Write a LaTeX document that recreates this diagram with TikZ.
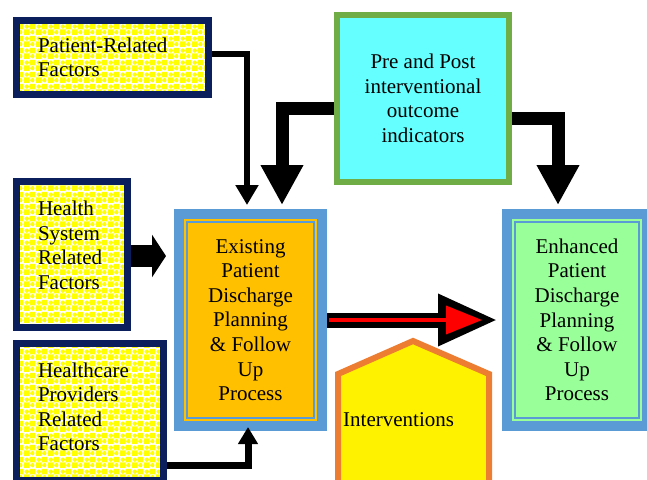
\documentclass[tikz,border=0pt]{standalone}
\usepackage{fontspec}
\setmainfont{Liberation Serif}
\definecolor{cNavy}{HTML}{0A1F5C}
\definecolor{cFrame}{HTML}{5B9BD5}
\definecolor{cOrange}{HTML}{FFC000}
\definecolor{cGreen}{HTML}{70AD47}
\definecolor{cCyan}{HTML}{66FFFF}
\definecolor{cMint}{HTML}{99FF99}
\definecolor{cPeach}{HTML}{ED7D31}
\usetikzlibrary{arrows.meta}
\usetikzlibrary{calc}
\usetikzlibrary{patterns}

\pgfdeclarepatternformonly{factordots}{\pgfpointorigin}{\pgfqpoint{12pt}{12pt}}{\pgfqpoint{12pt}{12pt}}{%
	\pgfpathrectangle{\pgfpointorigin}{\pgfqpoint{6pt}{6pt}}%
	\pgfpathrectangle{\pgfqpoint{6pt}{6pt}}{\pgfqpoint{6pt}{6pt}}%
	\pgfpathcircle{\pgfqpoint{9pt}{3pt}}{2.3pt}%
	\pgfpathcircle{\pgfqpoint{3pt}{9pt}}{2.3pt}%
	\pgfusepath{fill}}

\tikzset{
	factor/.style={draw=cNavy, line width=7pt, preaction={fill=white}, preaction={pattern=factordots, pattern color=yellow}, align=left, inner xsep=21.5pt},
	process/.style={draw=cFrame, line width=10pt, align=center, inner sep=0pt},
	thinflow/.style={line width=#1, -{Triangle[width=22pt,length=20pt]}},
	thickflow/.style={line width=13pt, -{Triangle[width=40pt,length=40pt]}, shorten >=4pt},
}

\begin{document}
\begin{tikzpicture}[x=1pt, y=-1pt, every node/.style={font=\fontsize{21}{24.6}\selectfont}]
		\useasboundingbox (0,0) rectangle (647,479);
		\clip (0,0) rectangle (647,479);
		% factors
		\node[factor, minimum width=192pt, minimum height=74pt, text width=149pt] (pat) at (112.5,57.5) {Patient-Related\\Factors};
		\node[factor, minimum width=111pt, minimum height=146pt, text width=68pt] (hsys) at (72,254.5) {Health\\System\\Related\\Factors\\[-6pt]\mbox{}};
		\node[factor, minimum width=147pt, minimum height=137pt, text width=104pt] (hprov) at (90,412) {Healthcare\\Providers\\Related\\Factors\\[-14pt]\mbox{}};
		% processes
		\node[process, fill=cOrange, minimum width=143pt, minimum height=212pt] (exist) at (250.5,320) {Existing\\Patient\\Discharge\\Planning\\\& Follow\\Up\\Process};
		\draw[cFrame, line width=2pt] ($(exist.north west)+(13,13)$) rectangle ($(exist.south east)+(-13,-13)$);
		\node[process, fill=cMint, minimum width=140pt, minimum height=212pt] (enh) at (577,320) {Enhanced\\Patient\\Discharge\\Planning\\\& Follow\\Up\\Process};
		\draw[cFrame, line width=2pt] ($(enh.north west)+(13,13)$) rectangle ($(enh.south east)+(-13,-13)$);
		\node[draw=cGreen, line width=6pt, fill=cCyan, align=center, minimum width=172pt, minimum height=167pt] (pre) at (423,98.5) {Pre and Post\\interventional\\outcome\\indicators};
		% interventions
		\draw[cPeach, line width=6pt, fill=yellow] (338,374) -- (413,341) -- (489,374) -- (489,490) -- (338,490) -- cycle;
		\node[anchor=west, inner sep=0pt] (interv) at (343,420) {Interventions};
		% arrows
		\draw[thinflow=6pt, shorten >=4pt] (pat.east) ++(0,-4) -| ($(exist.north)+(-3.5,0)$);
		\draw[thickflow] (pre.west) ++(0,10) -| ($(exist.north)+(31.5,0)$);
		\draw[thickflow] (pre.east) ++(0,20) -| ($(enh.north)+(-19,0)$);
		\draw[line width=22pt, -{Triangle[width=42pt,length=14pt]}, shorten >=8pt] ($(hsys.east)+(0,1.5)$) -- ($(exist.west |- hsys.east)+(0,1.5)$);
		\draw[line width=7pt, -{Triangle[width=19pt,length=17pt]}, shorten >=-4pt] (hprov.east) ++(0,53.5) -| ($(exist.south)+(-2.5,0)$);
		\draw[line width=15pt, -{Triangle[width=48pt,length=60pt]}, shorten >=4pt] (exist.east) -- (enh.west);
		\draw[red, line width=3.5pt, -{Triangle[width=28pt,length=36pt]}, shorten >=20pt, shorten <=2pt] (exist.east) -- (enh.west);
		%\draw[cFrame] (enh.north east) -- (enh.south east);
		\end{tikzpicture}
\end{document}
